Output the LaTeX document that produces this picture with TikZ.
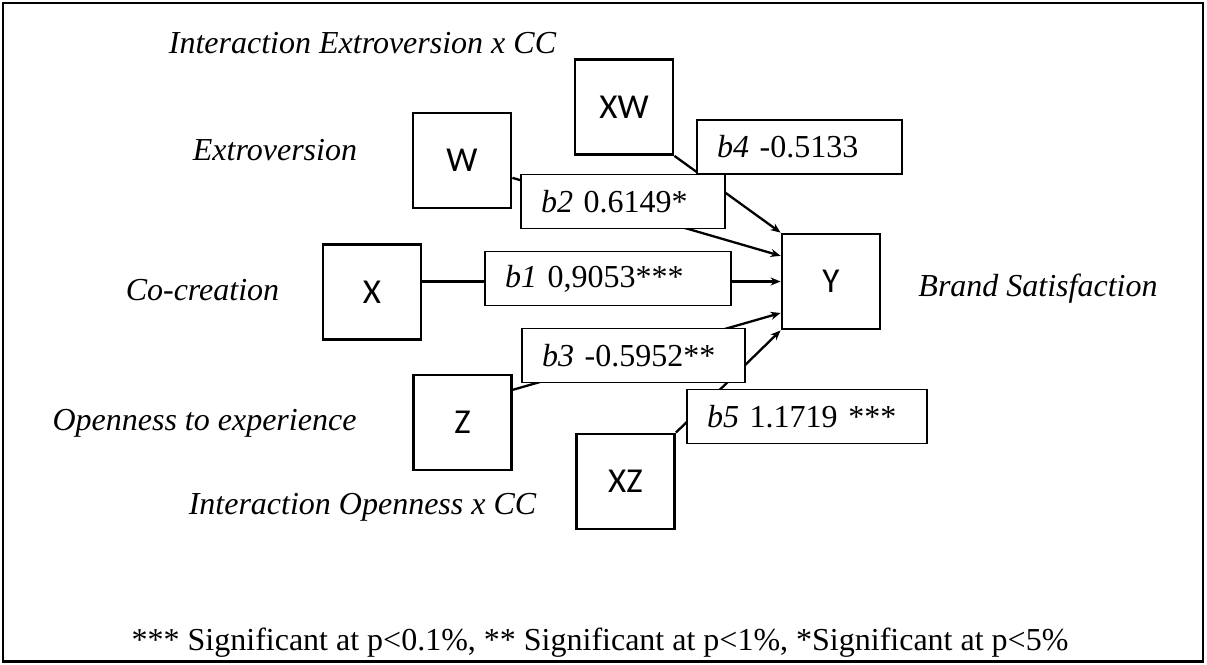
\documentclass[tikz,border=0pt]{standalone}
\usepackage{fontspec}
\setmainfont{Liberation Serif}
\setsansfont{Carlito}
\usepackage{tikz}
\usetikzlibrary{arrows.meta, positioning}

\begin{document}
\begin{tikzpicture}[
  x=1pt, y=-1pt,
  varbox/.style={rectangle, draw, line width=2.8pt, minimum width=98pt, minimum height=95pt, font=\sffamily\fontsize{35}{40}\selectfont},
  coef/.style={rectangle, draw, line width=1.2pt, fill=white, minimum height=54pt, inner xsep=20pt, align=left, font=\fontsize{32}{38}\selectfont},
  lbl/.style={anchor=base, inner sep=0pt, font=\itshape\fontsize{32}{38}\selectfont},
  arrow/.style={-{Stealth[length=10pt, width=8pt]}, line width=2.3pt}
]
  \useasboundingbox (0,0) rectangle (1207,664);
  \draw[line width=1.5pt] (3,661) -- (3,3) -- (1203,3) -- (1203,661);
  \draw[line width=3pt] (2,661) -- (1204,661);

  \node[varbox] (XW) at (624,107) {XW};
  \node[varbox] (W) at (462,160.5) {W};
  \node[varbox] (X) at (372,292) {X};
  \node[varbox] (Y) at (831,281.5) {Y};
  \node[varbox] (Z) at (462.5,422.5) {Z};
  \node[varbox] (XZ) at (625.5,481.5) {XZ};

  \draw[arrow] (XW.south east) -- (Y.north west);
  \draw[arrow] (W.-19) -- (Y.153);
  \draw[arrow] (X.east |- Y.west) -- (Y.west);
  \draw[arrow] (Z.33) -- (Y.212);
  \draw[arrow] (XZ.north east) -- (Y.south west);

  \node[coef, text width=165pt] (b4) at (799.5,147) {\textit{b4} -0.5133};
  \node[coef, text width=164pt] (b2) at (623,201.5) {\textit{b2} 0.6149*};
  \node[coef, text width=206pt] (b1) at (608,278.5) {\textit{b1} 0,9053***};
  \node[coef, text width=183pt] (b3) at (633.5,355.5) {\textit{b3} -0.5952**};
  \node[coef, text width=200pt] (b5) at (807,416.5) {\textit{b5} 1.1719 ***};

  \node[lbl] (lXW) at (362.5,53) {Interaction Extroversion x CC};
  \node[lbl] (lW) at (275,160) {Extroversion};
  \node[lbl] (lX) at (202.5,300) {Co-creation};
  \node[lbl] (lY) at (1038,296) {Brand Satisfaction};
  \node[lbl] (lZ) at (204.5,430) {Openness to experience};
  \node[lbl] (lXZ) at (362.5,514) {Interaction Openness x CC};
  \node[anchor=base, inner sep=0pt, font=\fontsize{32}{38}\selectfont] (note) at (600,650) {*** Significant at p<0.1\%, ** Significant at p<1\%, *Significant at p<5\%};
\end{tikzpicture}
\end{document}
